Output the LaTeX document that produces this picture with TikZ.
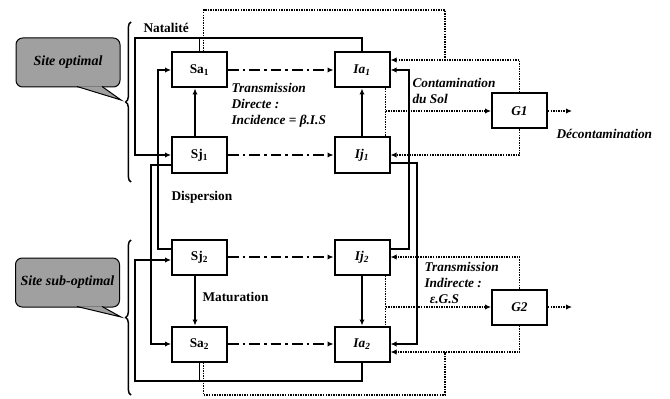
\documentclass[tikz,border=0pt]{standalone}
\usepackage{fontspec}
\setmainfont{Liberation Serif}
\usetikzlibrary{calc,arrows.meta,decorations.pathreplacing}

\definecolor{sitegray}{RGB}{160,160,160}
\tikzset{every picture/.style={line width=0.75pt}}
\tikzset{
  >={Latex[length=4.5pt,width=4pt]},
  box/.style={draw, line width=1.5pt, minimum width=41.25pt, minimum height=26.25pt, inner sep=0pt, font=\bfseries},
  flow/.style={line width=1.4pt},
  infect/.style={line width=1.5pt, dash pattern=on 8pt off 3pt on 2pt off 3pt},
  soil/.style={line width=1.4pt, dash pattern=on 1.1pt off 0.8pt},
  lbl/.style={inner sep=0pt, font=\bfseries\itshape, align=left},
  site/.style={draw, fill=sitegray, rounded corners=5pt, minimum width=78pt, minimum height=36.75pt, inner sep=0pt, font=\fontsize{10.5}{12}\bfseries\itshape},
  brc/.style={decorate, decoration={brace, amplitude=4pt}, line width=1.1pt},
}

\begin{document}
\begin{tikzpicture}[x=0.75pt,y=0.75pt,yscale=-1,xscale=1]
\useasboundingbox (0,0) rectangle (670,399);

% compartments
\node [box] (Sa1) at (199.5,70) {Sa\textsubscript{1}};
\node [box] (Sj1) at (199.5,155) {Sj\textsubscript{1}};
\node [box] (Sj2) at (199.5,257) {Sj\textsubscript{2}};
\node [box] (Sa2) at (199.5,344) {Sa\textsubscript{2}};
\node [box,font=\bfseries\itshape] (Ia1) at (362,70) {Ia\textsubscript{1}};
\node [box,font=\bfseries\itshape] (Ij1) at (362,155) {Ij\textsubscript{1}};
\node [box,font=\bfseries\itshape] (Ij2) at (362,257) {Ij\textsubscript{2}};
\node [box,font=\bfseries\itshape] (Ia2) at (362,344) {Ia\textsubscript{2}};
\node [box,font=\bfseries\itshape] (G1) at (519.5,111) {G1};
\node [box,font=\bfseries\itshape] (G2) at (519.5,307) {G2};

% corners
\coordinate (natT) at (135,38);
\coordinate (natB) at (135,381);
\coordinate (dL1) at (151,0);
\coordinate (dL2) at (158,0);
\coordinate (dR1) at (409,0);
\coordinate (dR2) at (417,0);
\coordinate (sR) at (445,10);
\coordinate (sRb) at (445,395);
\coordinate (ia1in) at ($(Ia1.east)+(0,-10)$);
\coordinate (ia2in) at ($(Ia2.east)+(0,8)$);
\coordinate (c1) at ($(Ia1.south east)+(-5,0)$);
\coordinate (c2) at ($(Ij2.south east)+(-5,0)$);
\coordinate (d1) at ($(G1.east)+(24,0)$);
\coordinate (d2) at ($(G2.east)+(24,0)$);
\coordinate (mL) at (195,0);

% direct transmission
\draw [infect,->] (Sa1) -- (Ia1);
\draw [infect,->] (Sj1) -- (Ij1);
\draw [infect,->] (Sj2) -- (Ij2);
\draw [infect,->] (Sa2) -- (Ia2);

% maturation
\draw [flow,->] (mL |- Sj1.north) -- (mL |- Sa1.south);
\draw [flow,->] (Ij1) -- (Ia1);
\draw [flow,->] (mL |- Sj2.south) -- (mL |- Sa2.north);
\draw [flow,->] (Ij2) -- (Ia2);

% natalite
\draw [flow,->] (Ia1.north) |- (natT) |- (Sj1.west);
\draw [flow] (Sa1.north) -- (Sa1.north |- natT);
\draw [flow,->] (Ia2.south) |- (natB) |- ($(Sj2.west)+(0,3)$);
\draw [flow] (Sa2.south) -- (Sa2.south |- natB);

% dispersion
\draw [flow,->] ($(Sj1.west)+(0,10)$) -| (dL1 |- Sa2.west) -- (Sa2.west);
\draw [flow,->] ($(Sj2.west)+(0,-8)$) -| (dL2 |- Sa1.west) -- (Sa1.west);
\draw [flow,->] ($(Ij2.east)+(0,-8)$) -| (dR1 |- Ia1.east) -- (Ia1.east);
\draw [flow,->] ($(Ij1.east)+(0,8)$) -| (dR2 |- Ia2.east) -- (Ia2.east);

% soil
\draw [soil] ($(Sa1.north)+(4,0)$) |- (sR) -- (sR |- ia1in);
\draw [soil,->] (G1.north) |- (ia1in);
\draw [soil,->] (G1.south) |- (Ij1.east);
\draw [soil] (c1) -- (c1 |- Ij1.north);
\draw [soil,->] (c1 |- G1.west) -- (G1.west);
\draw [soil,->] (G1.east) -- (d1);
\draw [soil] ($(Sa2.south)+(4,0)$) |- (sRb) -- (sRb |- ia2in);
\draw [soil,->] (G2.south) |- (ia2in);
\draw [soil,->] (G2.north) |- (Ij2.east);
\draw [soil] (c2) -- (c2 |- Ia2.north);
\draw [soil,->] (c2 |- G2.west) -- (G2.west);
\draw [soil,->] (G2.east) -- (d2);

% sites
\coordinate (b1a) at (131,182);
\coordinate (b1b) at (131,22);
\coordinate (b2a) at (131,395);
\coordinate (b2b) at (131,240);
\draw [brc] (b1a) -- (b1b);
\draw [brc] (b2a) -- (b2b);
\node [site] (opt) at (68,62.5) {Site optimal};
\coordinate (tip1) at (121,100);
\draw [fill=sitegray] ($(opt.south)+(9,-1)$) -- (tip1) -- ($(opt.south)+(34,-1)$);
\node [site] (sub) at (67.5,282.5) {Site sub-optimal};
\coordinate (tip2) at (121,317);
\draw [fill=sitegray] ($(sub.south)+(9.5,-1)$) -- (tip2) -- ($(sub.south)+(34.5,-1)$);

% labels
\node [lbl, font=\bfseries, anchor=west] (nat) at (143,28) {Natalité};
\node [lbl, anchor=west] (tdir) at (231,105) {Transmission\\Directe :\\Incidence = β.I.S};
\node [lbl, anchor=west] (csol) at (412,91) {Contamination\\du Sol};
\node [lbl, anchor=west] (dec) at (556,134) {Décontamination};
\node [lbl, font=\bfseries, anchor=west] (disp) at (171,197) {Dispersion};
\node [lbl, font=\bfseries, anchor=west] (mat) at (202,297) {Maturation};
\node [lbl, anchor=west] (tind) at (424,283) {Transmission\\Indirecte :\\\hspace{4pt}ε.G.S};

\end{tikzpicture}
\end{document}
